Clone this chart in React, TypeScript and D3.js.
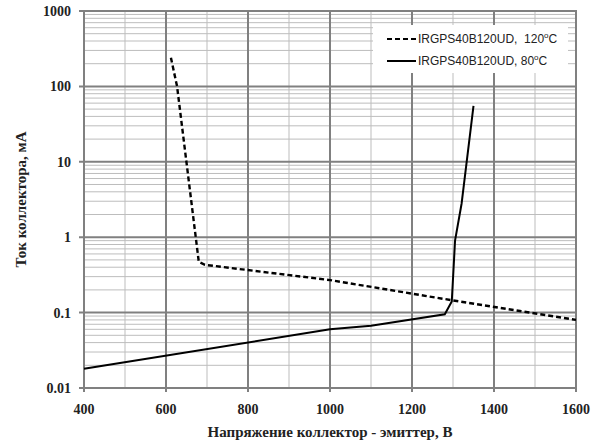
import React from "react";
import * as d3 from "d3";

const xTicks = [400, 600, 800, 1000, 1200, 1400, 1600];
const yTicks = [0.01, 0.1, 1, 10, 100, 1000];
const yTickLabels = ["0.01", "0.1", "1", "10", "100", "1000"];

const hotV = [612, 627, 680, 695, 1000, 1300, 1600];
const hotI = [240, 100, 0.47, 0.43, 0.27, 0.145, 0.08];

const warmV = [400, 1000, 1100, 1280, 1297, 1305, 1321, 1350];
const warmI = [0.018, 0.06, 0.067, 0.095, 0.14, 0.9, 2.8, 55];

const seriesNames = ["IRGPS40B120UD,  120", "IRGPS40B120UD, 80"];
const xTitle = "Напряжение коллектор - эмиттер, В";
const yTitle = "Ток коллектора, мА";

export default function App() {
  const W = 605, H = 443;
  const L = 84, R = 576, T = 11, B = 388;
  const x = d3.scaleLinear().domain([400, 1600]).range([L, R]);
  const y = d3.scaleLog().domain([0.01, 1000]).range([B, T]);

  const minorX = d3.range(400, 1601, 100).filter((v) => v % 200 !== 0);
  const minorY: number[] = [];
  for (let e = -2; e < 3; e++) {
    for (let m = 2; m <= 9; m++) minorY.push(m * Math.pow(10, e));
  }

  const line = d3
    .line<[number, number]>()
    .x((d) => x(d[0]))
    .y((d) => y(d[1]));

  const hot = hotV.map((v, i) => [v, hotI[i]] as [number, number]);
  const warm = warmV.map((v, i) => [v, warmI[i]] as [number, number]);

  const serif = "'Liberation Serif', 'Times New Roman', serif";
  const sans = "'Liberation Sans', Arial, sans-serif";
  const major = "#808080";
  const minor = "#bdbdbd";

  return (
    <svg
      width={W}
      height={H}
      style={{ position: "absolute", left: 0, top: 0, background: "#fff" }}
    >
      <rect x={0} y={0} width={W} height={H} fill="#fff" />
      {minorY.map((v) => (
        <line key={"my" + v} x1={L} x2={R} y1={y(v)} y2={y(v)} stroke={minor} strokeWidth={1} />
      ))}
      {minorX.map((v) => (
        <line key={"mx" + v} x1={x(v)} x2={x(v)} y1={T} y2={B} stroke={minor} strokeWidth={1} />
      ))}
      {yTicks.map((v) => (
        <line key={"Y" + v} x1={L - 5} x2={R} y1={y(v)} y2={y(v)} stroke={major} strokeWidth={2} />
      ))}
      {xTicks.map((v) => (
        <line key={"X" + v} x1={x(v)} x2={x(v)} y1={T} y2={B + 4} stroke={major} strokeWidth={2} />
      ))}
      <rect x={L} y={T} width={R - L} height={B - T} fill="none" stroke={major} strokeWidth={2} />

      <path d={line(hot) || ""} fill="none" stroke="#000" strokeWidth={2.4} strokeDasharray="5,3" />
      <path d={line(warm) || ""} fill="none" stroke="#000" strokeWidth={2} />

      <rect x={373} y={25} width={195} height={48} fill="#fff" />
      <line x1={387} x2={416} y1={39} y2={39} stroke="#000" strokeWidth={2} strokeDasharray="5,3" />
      <line x1={387} x2={416} y1={61} y2={61} stroke="#000" strokeWidth={2} />
      <text x={418} y={43} fontFamily={sans} fontSize={12} fill="#222" style={{ whiteSpace: "pre" }}>
        {seriesNames[0]}
        <tspan fontSize={8} dy={-5}>o</tspan>
        <tspan dy={5}>C</tspan>
      </text>
      <text x={418} y={65} fontFamily={sans} fontSize={12} fill="#222" style={{ whiteSpace: "pre" }}>
        {seriesNames[1]}
        <tspan fontSize={8} dy={-5}>o</tspan>
        <tspan dy={5}>C</tspan>
      </text>

      {yTicks.map((v, i) => (
        <text
          key={"yl" + v}
          x={71}
          y={y(v) + 5}
          textAnchor="end"
          fontFamily={serif}
          fontWeight="bold"
          fontSize={14}
          fill="#222"
        >
          {yTickLabels[i]}
        </text>
      ))}
      {xTicks.map((v) => (
        <text
          key={"xl" + v}
          x={x(v)}
          y={414}
          textAnchor="middle"
          fontFamily={serif}
          fontWeight="bold"
          fontSize={14}
          fill="#222"
        >
          {v}
        </text>
      ))}
      <text
        x={(L + R) / 2}
        y={437}
        textAnchor="middle"
        fontFamily={serif}
        fontWeight="bold"
        fontSize={15}
        fill="#222"
      >
        {xTitle}
      </text>
      <text
        transform={`translate(26, ${(T + B) / 2}) rotate(-90)`}
        textAnchor="middle"
        fontFamily={serif}
        fontWeight="bold"
        fontSize={15}
        fill="#222"
      >
        {yTitle}
      </text>
    </svg>
  );
}
